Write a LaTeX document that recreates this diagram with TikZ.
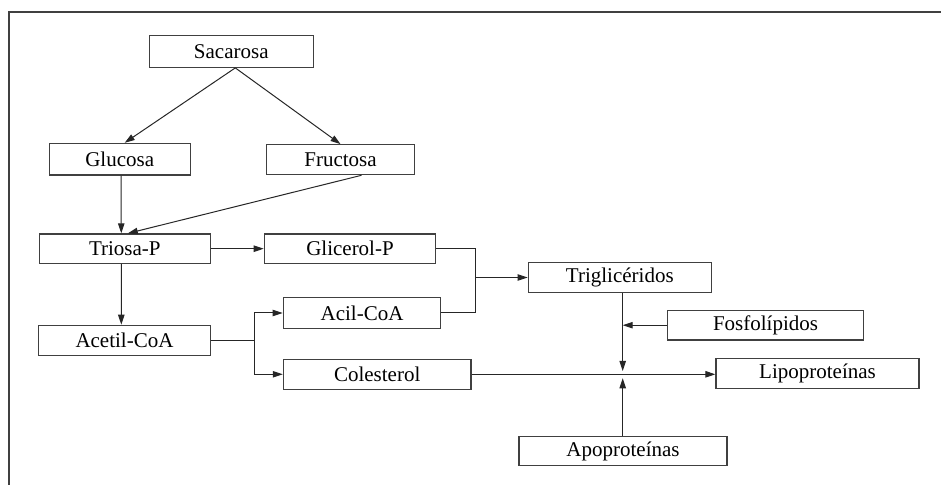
\documentclass[tikz,border=0pt]{standalone}
\usepackage{fontspec}
\setmainfont{Liberation Serif}
\usetikzlibrary{arrows.meta,calc}
\begin{document}
\begin{tikzpicture}[x=0.5pt,y=-0.5pt,
  box/.style={draw=black!75,line width=0.6pt,rectangle,inner sep=0pt,
    font=\fontsize{10.5}{12.6}\selectfont},
  conn/.style={draw=black!85,line width=0.5pt},
  arr/.style={conn,-{Triangle[length=5pt,width=3.2pt]}}]
\useasboundingbox (0,0) rectangle (941,485);
\draw[black!75,line width=0.8pt] (941,12) -- (9,12) -- (9,485);
% nodes
\node[box,minimum width=82pt,minimum height=15.8pt] (sac) at (231.3,51.5) {Sacarosa};
\node[box,minimum width=70.6pt,minimum height=15.8pt] (glu) at (119.7,159.2) {Glucosa};
\node[box,minimum width=73.8pt,minimum height=15pt] (fru) at (340.5,159.7) {Fructosa};
\node[box,minimum width=85.5pt,minimum height=14.7pt] (tri) at (124.8,248.7) {Triosa-P};
\node[box,minimum width=85.7pt,minimum height=14.7pt] (gli) at (350,248.7) {Glicerol-P};
\node[box,minimum width=91.5pt,minimum height=14.8pt] (tg) at (619.8,277.5) {Triglicéridos};
\node[box,minimum width=78.7pt,minimum height=15.3pt] (acil) at (362,313) {Acil-CoA};
\node[box,minimum width=85.8pt,minimum height=15pt] (ace) at (124.5,340.3) {Acetil-CoA};
\node[box,minimum width=93.8pt,minimum height=15pt] (col) at (377.2,374.3) {Colesterol};
\node[box,minimum width=97.8pt,minimum height=14.8pt] (fos) at (765.5,325.2) {Fosfolípidos};
\node[box,minimum width=101.5pt,minimum height=15pt] (lip) at (817.5,373.5) {Lipoproteínas};
\node[box,minimum width=104pt,minimum height=14.7pt] (apo) at (623,451) {Apoproteínas};
% junction points
\coordinate (j1) at (475.7,277.5);
\coordinate (j2) at (254.3,340.3);
\coordinate (j3) at (622.7,374.3);
% connectors
\draw[arr] ($(sac.south)+(4,0)$) -- ($(glu.north)+(5,0)$);
\draw[arr] ($(sac.south)+(4,0)$) -- (fru.north);
\draw[arr] ($(glu.south)+(1.3,0)$) -- ($(tri.north)+(-3.5,0)$);
\draw[arr] ($(fru.south)+(21,0)$) -- ($(tri.north)+(3,0)$);
\draw[arr] (tri.east) -- (gli.west);
\draw[arr] ($(tri.south)+(-3.5,0)$) -- ($(ace.north)+(-3.2,0)$);
\draw[conn] (gli.east) -| (j1) |- (acil.east);
\draw[arr] (j1) -- (tg.west);
\draw[conn] (ace.east) -- (j2);
\draw[arr] (j2) |- (acil.west);
\draw[arr] (j2) |- (col.west);
\draw[arr] (tg.south -| j3) -- ($(j3)+(0,-3.3)$);
\draw[arr] (fos.west) -- (fos.west -| j3);
\draw[arr] (col.east) -- (lip.west |- col.east);
\draw[arr] (apo.north -| j3) -- ($(j3)+(0,4)$);
\end{tikzpicture}
\end{document}
